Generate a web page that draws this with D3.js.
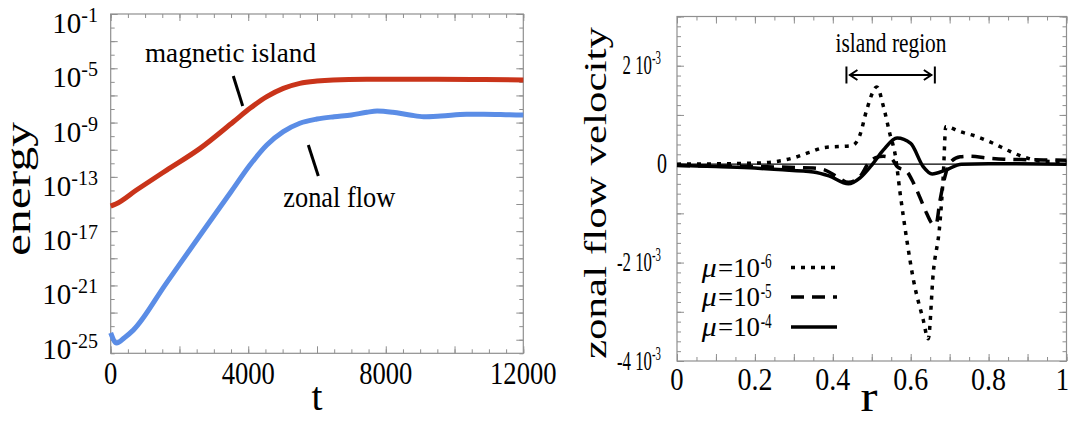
<!DOCTYPE html>
<html>
<head>
<meta charset="utf-8">
<script src="https://cdn.jsdelivr.net/npm/d3@7"></script>
<style>
  body { margin: 0; background: #fff; }
  svg { display: block; }
  text { font-family: "Liberation Serif", "Times New Roman", serif; fill: #000; }
</style>
</head>
<body>
<svg id="chart" width="1071" height="421"></svg>
<script>
// ---- left panel: energy vs t (values stored as log10 of energy) ----
const timeIsland = [0, 150, 750, 1630, 2600, 3570, 4050, 4540, 5020, 5500, 6000, 6470, 7450, 9000, 10500, 12000];
const logIsland  = [-15.15, -15.0, -13.97, -12.5, -10.9, -8.94, -7.95, -7.09, -6.48, -6.11, -5.94, -5.86, -5.81, -5.8, -5.82, -5.86];

const timeZonal = [0, 170, 400, 657, 1600, 2600, 3500, 4050, 4540, 5020, 5500, 6000, 6500, 7000, 7450, 7750, 8200, 8700, 9100, 9600, 10350, 10850, 11600, 12000];
const logZonal  = [-24.5, -25.25, -24.85, -24.29, -20.9, -17.3, -14.1, -12.13, -10.65, -9.67, -9.05, -8.74, -8.57, -8.44, -8.24, -8.15, -8.24, -8.44, -8.57, -8.52, -8.39, -8.39, -8.43, -8.45];

const energyTickExps = [-1, -5, -9, -13, -17, -21, -25];
const timeTicks = [0, 4000, 8000, 12000];

// ---- right panel: zonal flow velocity (units of 1e-3) vs r ----
const rDotted = [0, 0.2, 0.26, 0.3, 0.34, 0.38, 0.42, 0.45, 0.47, 0.487, 0.513, 0.53, 0.547, 0.56, 0.573, 0.59, 0.607, 0.632, 0.645, 0.658, 0.675, 0.684, 0.69, 0.727, 0.77, 0.81, 0.855, 0.9, 0.94, 1.0];
const vDotted = [0, 0.02, 0.06, 0.13, 0.24, 0.34, 0.36, 0.38, 0.6, 1.1, 1.57, 1.17, 0.6, 0.2, -0.6, -1.54, -2.35, -3.16, -3.55, -2.2, -1.2, -0.18, 0.76, 0.66, 0.56, 0.43, 0.26, 0.12, 0.06, 0.05];

const rDashed = [0, 0.2, 0.35, 0.38, 0.41, 0.44, 0.47, 0.49, 0.51, 0.53, 0.55, 0.565, 0.59, 0.607, 0.625, 0.641, 0.658, 0.665, 0.675, 0.688, 0.70, 0.727, 0.75, 0.8, 0.84, 0.9, 1.0];
const vDashed = [-0.03, -0.05, -0.08, -0.12, -0.25, -0.37, -0.25, 0.0, 0.13, 0.16, 0.12, -0.05, -0.15, -0.38, -0.7, -1.0, -1.22, -1.22, -0.75, -0.25, 0.02, 0.15, 0.16, 0.12, 0.10, 0.09, 0.08];

const rSolid = [0, 0.1, 0.2, 0.26, 0.35, 0.39, 0.44, 0.47, 0.5, 0.53, 0.565, 0.6, 0.632, 0.655, 0.69, 0.73, 0.8, 1.0];
const vSolid = [-0.02, -0.05, -0.08, -0.11, -0.16, -0.24, -0.40, -0.28, -0.02, 0.29, 0.53, 0.42, -0.05, -0.2, -0.12, 0, 0.01, 0];

const velocityTicks = [2, 0, -2, -4];
const radiusTicks = [0, 0.2, 0.4, 0.6, 0.8, 1];
const muExps = ["-6", "-5", "-4"];
const muDash = ["4,6", "13,8", null];
const islandRegion = [0.435, 0.662];

const svg = d3.select("#chart");
const frameColor = "#8f8f8f";

function zip(a, b) { return a.map((v, i) => [v, b[i]]); }

function addText(g, x, y, str, size, opt = {}) {
    const t = g.append("text")
        .attr("x", x).attr("y", y)
        .attr("font-size", size)
        .attr("text-anchor", opt.anchor || "start")
        .text(str);
    if (opt.len) t.attr("textLength", opt.len).attr("lengthAdjust", "spacingAndGlyphs");
    if (opt.italic) t.attr("font-style", "italic");
    return t;
}

function frameAxes(g, xs, ys, xTicks, yTicks) {
    const [x0, x1] = xs.range();
    const [y1, y0] = ys.range();
    const tick = (axis, vals, len, tr) => {
        const a = g.append("g").attr("transform", tr)
            .call(axis.tickValues(vals).tickSize(-len).tickSizeOuter(0).tickFormat(""));
        a.select(".domain").remove();
        a.selectAll("line").attr("stroke", frameColor);
    };
    tick(d3.axisBottom(xs), xTicks.minor, 4, `translate(0,${y1})`);
    tick(d3.axisBottom(xs), xTicks.major, 7, `translate(0,${y1})`);
    tick(d3.axisTop(xs), xTicks.minor, 4, `translate(0,${y0})`);
    tick(d3.axisTop(xs), xTicks.major, 7, `translate(0,${y0})`);
    tick(d3.axisLeft(ys), yTicks.minor, 4, `translate(${x0},0)`);
    tick(d3.axisLeft(ys), yTicks.major, 7, `translate(${x0},0)`);
    tick(d3.axisRight(ys), yTicks.minor, 4, `translate(${x1},0)`);
    tick(d3.axisRight(ys), yTicks.major, 7, `translate(${x1},0)`);
    g.append("rect")
        .attr("x", x0).attr("y", y0)
        .attr("width", x1 - x0).attr("height", y1 - y0)
        .attr("fill", "none").attr("stroke", frameColor).attr("stroke-width", 1.2);
}

// ================= left panel =================
const xT = d3.scaleLinear().domain([0, 12000]).range([110.7, 523.3]);
const yE = d3.scaleLog().domain([1e-26, 1e-1]).range([353.3, 14]);

const left = svg.append("g");
frameAxes(left, xT, yE,
    { minor: d3.range(0, 12001, 500), major: d3.range(0, 12001, 2000) },
    { minor: d3.range(-26, 0).map(e => 10 ** e), major: d3.range(-25, 0, 2).map(e => 10 ** e) });

const energyLine = d3.line()
    .x(d => xT(d[0]))
    .y(d => yE(10 ** d[1]))
    .curve(d3.curveMonotoneX);

left.append("path").datum(zip(timeIsland, logIsland))
    .attr("d", energyLine).attr("fill", "none")
    .attr("stroke", "#c9341a").attr("stroke-width", 5).attr("stroke-linejoin", "round");
left.append("path").datum(zip(timeZonal, logZonal))
    .attr("d", energyLine).attr("fill", "none")
    .attr("stroke", "#5b8de6").attr("stroke-width", 5).attr("stroke-linejoin", "round");

// y tick labels 10^-n
energyTickExps.forEach(e => {
    const y = yE(10 ** e);
    const t = left.append("text").attr("x", 98).attr("y", y + 19)
        .attr("text-anchor", "end").attr("font-size", 29);
    t.append("tspan").text("10");
    t.append("tspan").attr("font-size", 20).attr("dy", -11).text(String(e));
});
timeTicks.forEach(v => {
    const s = String(v);
    addText(left, xT(v), 383.5, s, 32, { anchor: "middle", len: s.length * 13.3 });
});

// annotations
addText(left, 145, 62, "magnetic island", 27, { len: 171 });
addText(left, 283.3, 206.5, "zonal flow", 29, { len: 112 });
left.append("line").attr("x1", 233.3).attr("y1", 76).attr("x2", 242.7).attr("y2", 106)
    .attr("stroke", "#000").attr("stroke-width", 3);
left.append("line").attr("x1", 308.3).attr("y1", 145).attr("x2", 318.3).attr("y2", 176)
    .attr("stroke", "#000").attr("stroke-width", 3);

// axis titles
left.append("text").attr("transform", "translate(30,189) rotate(-90)")
    .attr("text-anchor", "middle").attr("font-size", 35)
    .attr("textLength", 134).attr("lengthAdjust", "spacingAndGlyphs").text("energy");
addText(left, 317, 410, "t", 41, { anchor: "middle", len: 11 });

// ================= right panel =================
const xR = d3.scaleLinear().domain([0, 1]).range([677, 1066.5]);
const yV = d3.scaleLinear().domain([-4, 3]).range([361, 16.5]);

const right = svg.append("g");
frameAxes(right, xR, yV,
    { minor: d3.range(0, 21).map(i => i * 0.05), major: d3.range(0, 11).map(i => i * 0.1) },
    { minor: d3.range(0, 36).map(i => -4 + i * 0.2), major: d3.range(-4, 4, 1) });

// zero reference
right.append("line")
    .attr("x1", xR(0)).attr("x2", xR(1)).attr("y1", yV(0)).attr("y2", yV(0))
    .attr("stroke", "#000").attr("stroke-width", 1.2);

const velLine = d3.line()
    .x(d => xR(d[0]))
    .y(d => yV(d[1]))
    .curve(d3.curveMonotoneX);

const series = [zip(rDotted, vDotted), zip(rDashed, vDashed), zip(rSolid, vSolid)];
series.forEach((s, i) => {
    right.append("path").datum(s)
        .attr("d", velLine).attr("fill", "none")
        .attr("stroke", "#000").attr("stroke-width", 3.5)
        .attr("stroke-dasharray", muDash[i]);
});

// tick labels: "2 10^-3" style, squeezed horizontally like the original
velocityTicks.forEach(v => {
    const y = yV(v) + 8.5;
    if (v === 0) {
        addText(right, 667, y, "0", 29, { anchor: "end", len: 10 });
    } else {
        const t = right.append("text")
            .attr("transform", `translate(661,${y}) scale(0.6,1)`)
            .attr("text-anchor", "end").attr("font-size", 28);
        t.append("tspan").text(`${v} 10`);
        t.append("tspan").attr("font-size", 18).attr("dy", -10).text("-3");
    }
});
radiusTicks.forEach(v => {
    const s = String(v);
    const w = s.length === 1 ? 13.3 : 35;
    addText(right, xR(v) + (v === 1 ? -4 : 0), 390, s, 32, { anchor: "middle", len: w });
});

// island region marker
const arrowY = 75;
const [ra, rb] = islandRegion.map(xR);
islandRegion.forEach(r => {
    right.append("line").attr("x1", xR(r)).attr("x2", xR(r))
        .attr("y1", arrowY - 8.5).attr("y2", arrowY + 8.5)
        .attr("stroke", "#000").attr("stroke-width", 2);
});
right.append("line").attr("x1", ra + 3).attr("x2", rb - 3)
    .attr("y1", arrowY).attr("y2", arrowY).attr("stroke", "#000").attr("stroke-width", 2);
right.append("path")
    .attr("d", `M${ra + 11},${arrowY - 5}L${ra + 3.5},${arrowY}L${ra + 11},${arrowY + 5}` +
               `M${rb - 11},${arrowY - 5}L${rb - 3.5},${arrowY}L${rb - 11},${arrowY + 5}`)
    .attr("fill", "none").attr("stroke", "#000").attr("stroke-width", 2);
addText(right, 891, 51.7, "island region", 27, { anchor: "middle", len: 111 });

// legend
const legendBase = [276.5, 306, 336];
muExps.forEach((e, i) => {
    const y = legendBase[i];
    addText(right, 701.7, y, "\u03bc", 27, { italic: true, len: 15 });
    addText(right, 718, y, "=10", 27, { len: 42 });
    addText(right, 760.7, y - 8.4, e, 20, { len: 11 });
    right.append("line").attr("x1", 791).attr("x2", 837)
        .attr("y1", y - 9).attr("y2", y - 9)
        .attr("stroke", "#000").attr("stroke-width", 3.5)
        .attr("stroke-dasharray", muDash[i]);
});

// axis titles
right.append("text").attr("transform", "translate(606,193) rotate(-90)")
    .attr("text-anchor", "middle").attr("font-size", 32)
    .attr("textLength", 332).attr("lengthAdjust", "spacingAndGlyphs").text("zonal flow velocity");
addText(right, 869, 411, "r", 44, { anchor: "middle", len: 17 });
</script>
</body>
</html>
